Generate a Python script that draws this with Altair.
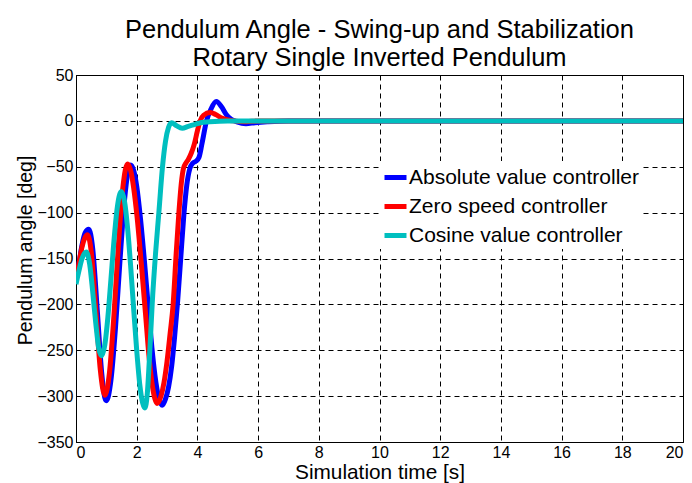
import altair as alt
import pandas as pd

FONT = "Liberation Sans"

NAMES = ["Absolute value controller", "Zero speed controller", "Cosine value controller"]
COLORS = ["#0000FF", "#FF0000", "#00BFBF"]

# Absolute value controller (blue)
T_ABS = [0, 0.1, 0.2, 0.3, 0.42, 0.55, 0.7, 0.85, 0.95, 1.0, 1.15, 1.3, 1.45, 1.6, 1.7,
         1.8, 1.9, 2.0, 2.12, 2.25, 2.4, 2.5, 2.6, 2.72, 2.84, 2.95, 3.05, 3.15, 3.25, 3.35,
         3.45, 3.55, 3.65, 3.75, 3.85, 3.95, 4.05, 4.15, 4.3, 4.45, 4.62, 4.8, 4.95, 5.1, 5.3,
         5.6, 5.9, 6.3, 7, 10, 15, 20]
A_ABS = [-175, -155, -135, -122, -118, -139, -206, -276, -302, -305, -283, -226, -152, -86, -58,
         -48, -54, -71, -105, -151, -210, -247, -277, -301, -310, -303, -290, -268, -235, -196,
         -150, -104, -70, -52, -46, -44, -40, -25, 0, 13, 21, 15, 7, 2, -1,
         -3, -2, -1, 0, 0, 0, 0]

# Zero speed controller (red)
T_ZERO = [0, 0.1, 0.2, 0.3, 0.38, 0.5, 0.65, 0.8, 0.95, 1.1, 1.25, 1.4, 1.55, 1.7, 1.8,
          1.9, 2.01, 2.15, 2.29, 2.4, 2.5, 2.6, 2.67, 2.8, 2.9, 3.0, 3.1, 3.2, 3.3, 3.39,
          3.47, 3.54, 3.62, 3.7, 3.8, 3.9, 4.0, 4.09, 4.2, 4.42, 4.6, 4.8, 5.0, 5.2, 5.6,
          6.0, 7, 10, 15, 20]
A_ZERO = [-175, -155, -137, -127, -124, -142, -204, -271, -299, -275, -212, -134, -71, -47, -54,
          -73, -104, -155, -210, -255, -285, -303, -308, -300, -285, -262, -232, -200, -145, -100,
          -68, -52, -46, -42, -35, -25, -11, 0, 6, 9, 7, 3, 1, 0, -1,
          0, 0, 0, 0, 0]

# Cosine value controller (cyan)
T_COS = [0, 0.1, 0.2, 0.34, 0.45, 0.55, 0.65, 0.75, 0.84, 0.95, 1.05, 1.15, 1.25, 1.35, 1.49,
         1.6, 1.7, 1.8, 1.9, 2.0, 2.1, 2.2, 2.27, 2.35, 2.43, 2.51, 2.62, 2.73, 2.85, 2.95,
         3.05, 3.15, 3.3, 3.5, 3.7, 3.9, 4.1, 4.4, 5.0, 7, 10, 15, 20]
A_COS = [-178, -163, -150, -143, -156, -186, -220, -248, -256, -244, -214, -173, -131, -97, -77,
         -88, -117, -158, -205, -250, -287, -308, -313, -297, -252, -200, -145, -100, -50, -22,
         -7, -2, -5, -8, -6, -4, -2, -1, 0, 0, 0, 0, 0]

X_TICKS = list(range(0, 21, 2))
Y_TICKS = list(range(-350, 51, 50))

rows = []
for name, ts, vs in zip(NAMES, [T_ABS, T_ZERO, T_COS], [A_ABS, A_ZERO, A_COS]):
    for t, v in zip(ts, vs):
        rows.append({"t": t, "angle": v, "controller": name})
df = pd.DataFrame(rows)

color = alt.Color(
    "controller:N",
    scale=alt.Scale(domain=NAMES, range=COLORS),
    legend=alt.Legend(
        title=None, orient="none", legendX=303, legendY=86,
        fillColor="white", padding=3, symbolType="stroke", symbolSize=484,
        symbolStrokeWidth=5, labelFontSize=21, labelFont=FONT, labelColor="black",
        rowPadding=5, labelOffset=0, labelLimit=400,
    ),
)
x = alt.X(
    "t:Q",
    scale=alt.Scale(domain=[0, 20], nice=False, zero=False),
    axis=alt.Axis(values=X_TICKS, title="Simulation time [s]", labelPadding=2,
                  titlePadding=2.5, titleFontSize=20.8),
)
y = alt.Y(
    "angle:Q",
    scale=alt.Scale(domain=[-350, 50], nice=False, zero=False),
    axis=alt.Axis(values=Y_TICKS, title="Pendulum angle [deg]", labelPadding=3,
                  titlePadding=1, titleFontSize=19.5, titleY=175),
)

base = alt.Chart(df)
layers = [
    base.transform_filter(alt.datum.controller == n)
    .mark_line(strokeWidth=5, interpolate="monotone", clip=True)
    .encode(x=x, y=y, color=color)
    for n in NAMES
]

chart = (
    alt.layer(*layers)
    .properties(
        width=607, height=367,
        autosize=alt.AutoSizeParams(type="none"),
        padding={"left": 76, "top": 75, "right": 9, "bottom": 41},
        background="white",
        title=alt.Title(
            ["Pendulum Angle - Swing-up and Stabilization", "Rotary Single Inverted Pendulum"],
            fontSize=25.5, font=FONT, fontWeight="normal", color="black",
            lineHeight=28, offset=5, dy=9, anchor="middle",
        ),
    )
    .configure_view(stroke="black", strokeWidth=1)
    .configure_axis(
        labelFont=FONT, labelFontSize=16, labelColor="black",
        titleFont=FONT, titleFontWeight="normal", titleColor="black",
        tickSize=0, domainColor="black", domainWidth=1,
        grid=True, gridColor="black", gridOpacity=1, gridWidth=1, gridDash=[5, 4],
    )
)

chart.save("out.html", embed_options={"renderer": "svg", "actions": False})
